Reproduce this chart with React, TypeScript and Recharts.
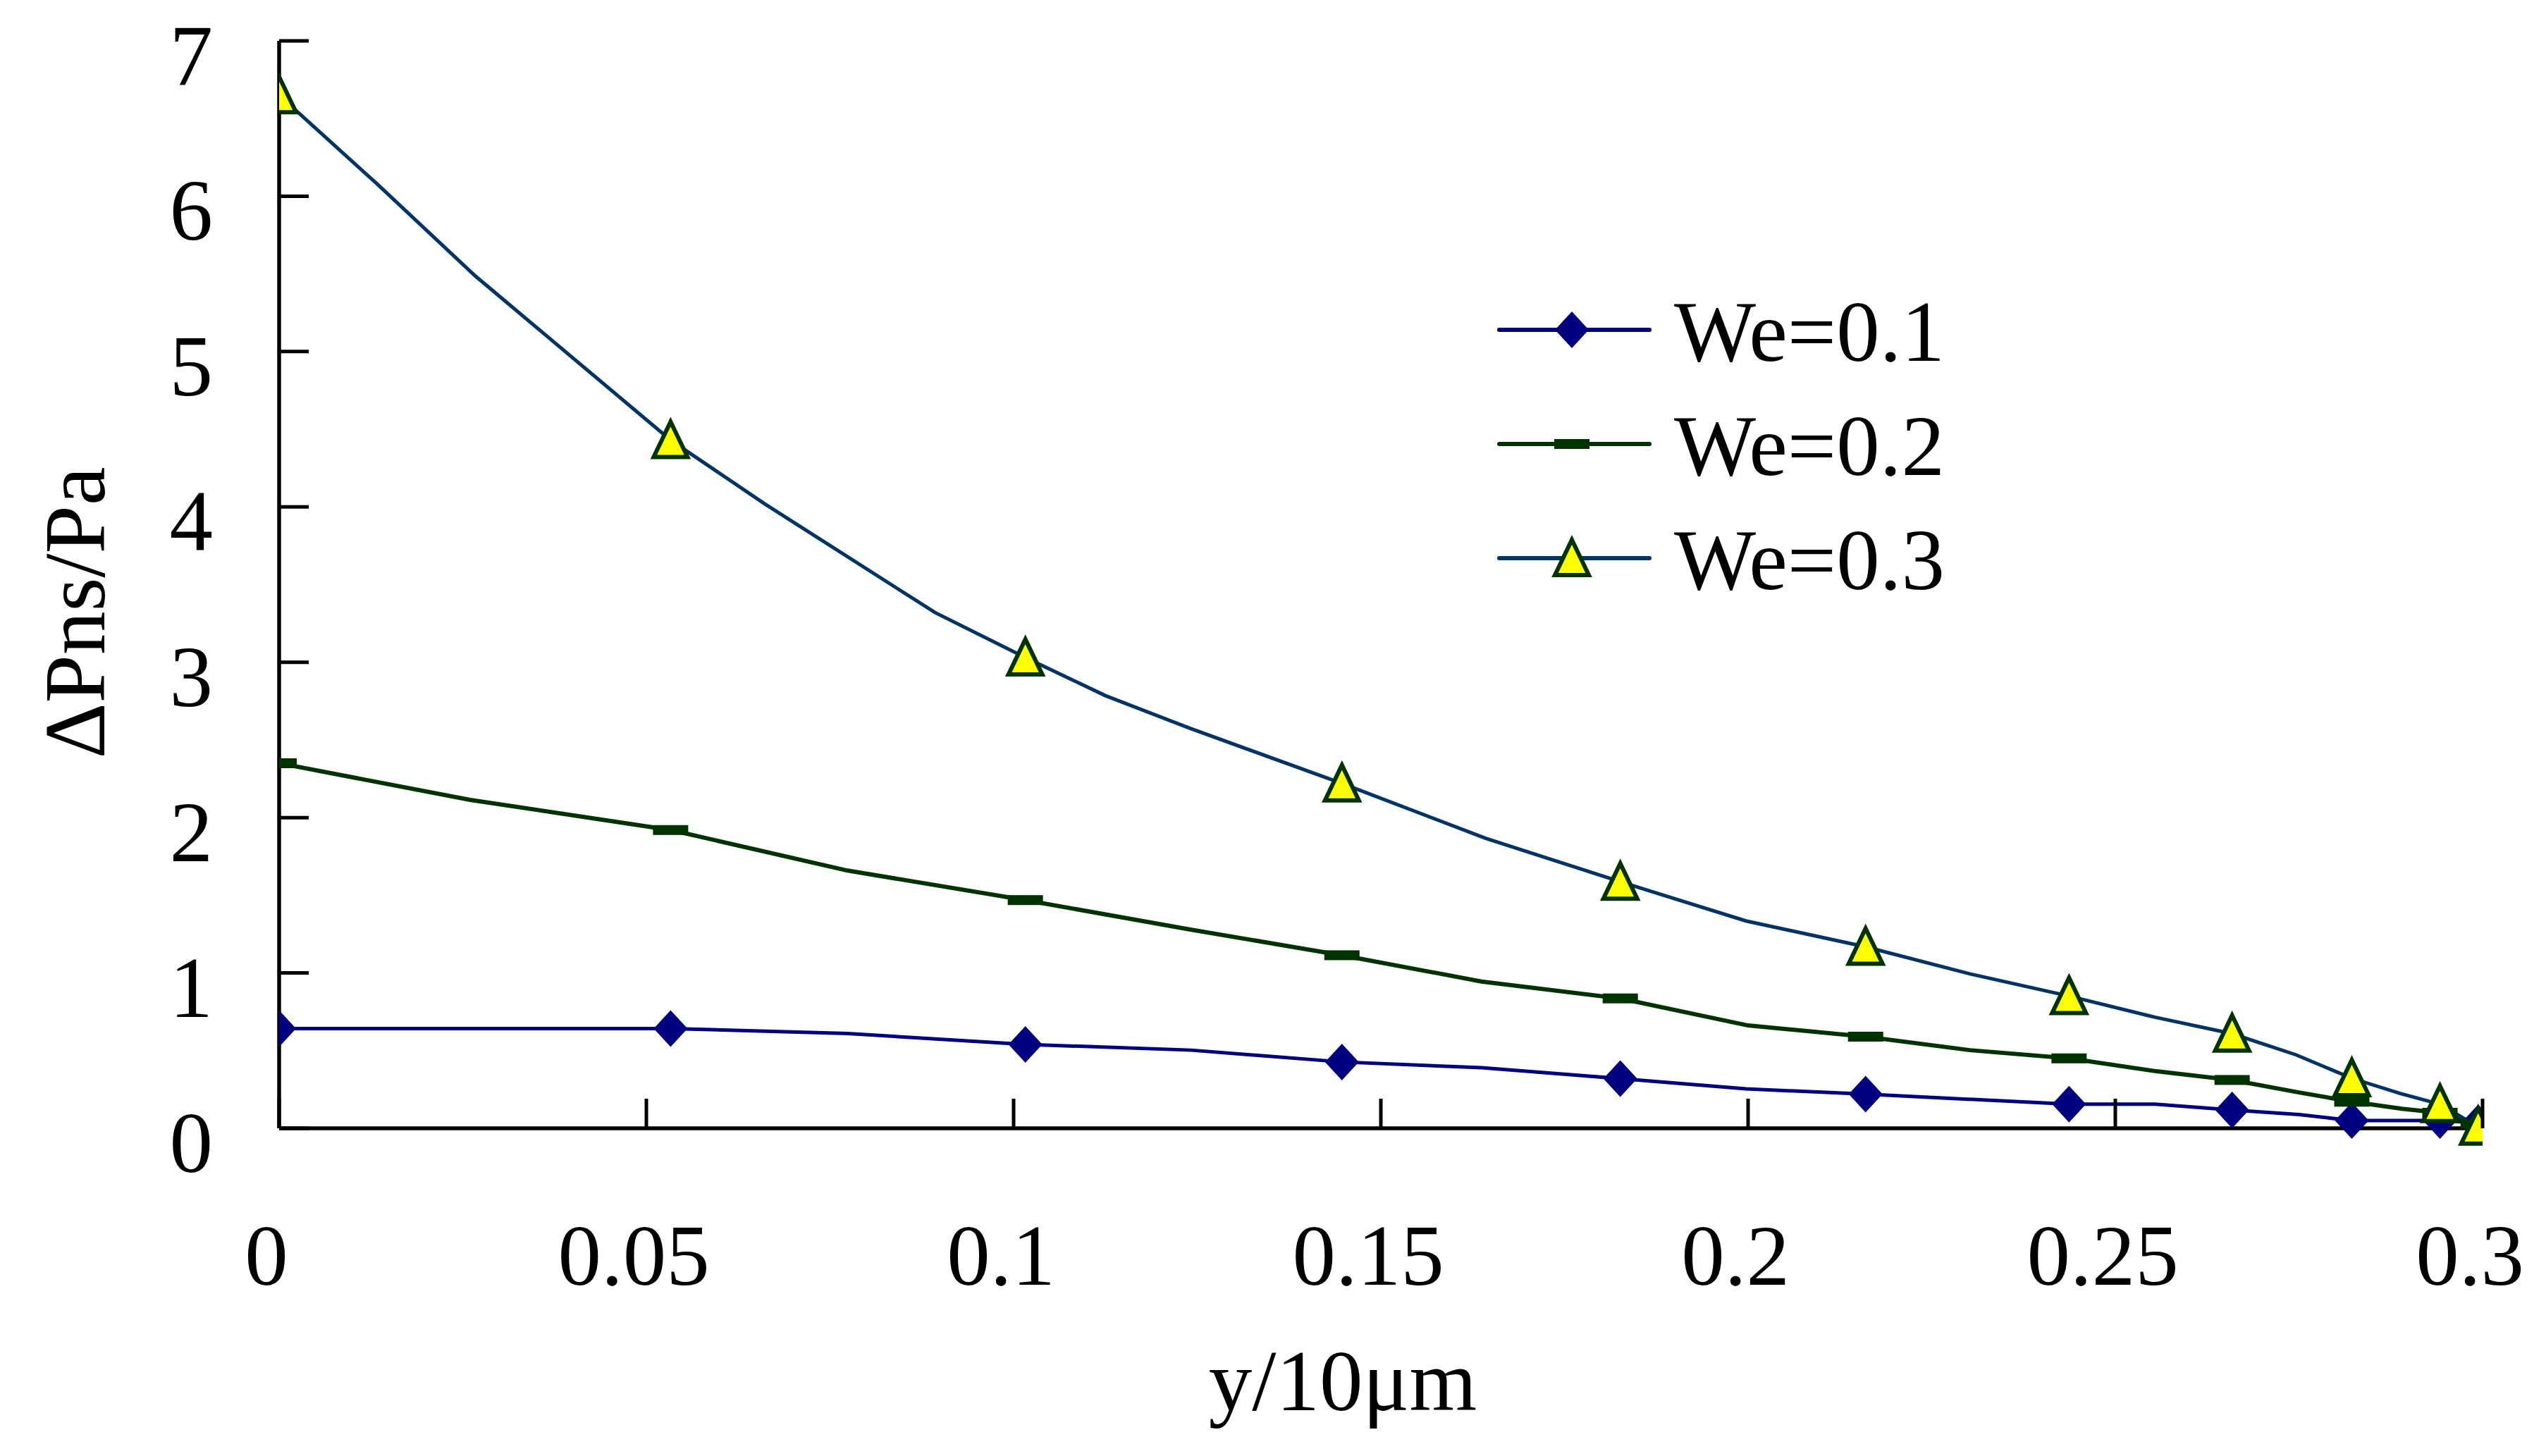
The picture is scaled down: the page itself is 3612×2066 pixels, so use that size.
import React from 'react';
import { LineChart, Line, XAxis, YAxis, Legend } from 'recharts';

/* ─── Data ────────────────────────────────────────────── */

const xTicks = [0, 0.05, 0.1, 0.15, 0.2, 0.25, 0.3];
const yTicks = [0, 1, 2, 3, 4, 5, 6, 7];

// marker positions (shared by all three series)
const markX = [0, 0.0533, 0.1016, 0.1447, 0.1826, 0.216, 0.2437, 0.2659, 0.2822, 0.2942, 0.2994];
const we1Mark = [0.642, 0.642, 0.54, 0.427, 0.32, 0.22, 0.155, 0.118, 0.05, 0.05, 0.035];
const we2Mark = [2.35, 1.92, 1.469, 1.114, 0.836, 0.59, 0.45, 0.311, 0.171, 0.1, 0.03];
const we3Mark = [6.65, 4.43, 3.03, 2.22, 1.587, 1.168, 0.851, 0.609, 0.322, 0.155, 0.01];

// curve vertices
const we1LineX = [0, 0.0533, 0.0774, 0.1016, 0.1242, 0.1447, 0.1637, 0.1826, 0.1997, 0.216, 0.2437, 0.2554, 0.2659, 0.275, 0.2822, 0.2942, 0.2994];
const we1LineY = [0.642, 0.642, 0.61, 0.54, 0.503, 0.427, 0.39, 0.32, 0.254, 0.22, 0.155, 0.155, 0.118, 0.088, 0.05, 0.05, 0.035];

const we2LineX = [0, 0.026, 0.0407, 0.0533, 0.0774, 0.1016, 0.1242, 0.1447, 0.1637, 0.1826, 0.2, 0.216, 0.2302, 0.2437, 0.2556, 0.2659, 0.275, 0.2822, 0.289, 0.2942, 0.2994];
const we2LineY = [2.35, 2.114, 2.01, 1.92, 1.659, 1.469, 1.278, 1.114, 0.945, 0.836, 0.662, 0.59, 0.503, 0.45, 0.367, 0.311, 0.231, 0.171, 0.126, 0.1, 0.03];

const we3LineX = [0, 0.0132, 0.0267, 0.0533, 0.0661, 0.0893, 0.1016, 0.1125, 0.124, 0.1447, 0.1643, 0.1826, 0.1997, 0.216, 0.2302, 0.2437, 0.2554, 0.2659, 0.2746, 0.2822, 0.2888, 0.2942, 0.2994];
const we3LineY = [6.65, 6.085, 5.487, 4.43, 4.02, 3.32, 3.03, 2.785, 2.575, 2.22, 1.866, 1.587, 1.335, 1.168, 0.994, 0.851, 0.715, 0.609, 0.473, 0.322, 0.224, 0.155, 0.01];

const seriesNames = ['We=0.1', 'We=0.2', 'We=0.3'];

/* ─── Styles ──────────────────────────────────────────── */

const FONT = "'Liberation Serif', 'Times New Roman', serif";
const FONT_SIZE = 123;
const C1 = '#000080';
const C2 = '#003300';
const C3 = '#003366';
const YELLOW = '#FFFF00';

const zip = (xs: number[], ys: number[]) => xs.map((x, i) => ({ x, y: ys[i] }));

/* ─── Marker shapes ───────────────────────────────────── */

function Diamond({ cx, cy }: { cx: number; cy: number }) {
	return <path d={`M${cx},${cy - 26} L${cx + 24},${cy} L${cx},${cy + 26} L${cx - 24},${cy} Z`} fill={C1} />;
}

function Dash({ cx, cy }: { cx: number; cy: number }) {
	return <rect x={cx - 25} y={cy - 7} width={50} height={14} fill={C2} />;
}

function Triangle({ cx, cy }: { cx: number; cy: number }) {
	return (
		<path
			d={`M${cx},${cy - 26} L${cx + 24},${cy + 24} L${cx - 24},${cy + 24} Z`}
			fill={YELLOW}
			stroke={C2}
			strokeWidth={6}
			strokeLinejoin="miter"
		/>
	);
}

const dotOf = (Shape: React.FC<{ cx: number; cy: number }>, tag: string) => (p: any) => {
	if (p.cx == null || p.cy == null) return <g key={`${tag}-${p.index}`} />;
	return (
		<g key={`${tag}-${p.index}`}>
			<Shape cx={p.cx} cy={p.cy} />
		</g>
	);
};

/* ─── Axis ticks ──────────────────────────────────────── */

function YTick(props: any) {
	const { x, y, payload } = props;
	return (
		<g>
			<line x1={x} y1={y} x2={x + 42} y2={y} stroke="#000" strokeWidth={5} />
			<text x={x - 94} y={y + 62} textAnchor="end" fontFamily={FONT} fontSize={FONT_SIZE} fill="#000">
				{payload.value}
			</text>
		</g>
	);
}

function XTick(props: any) {
	const { x, y, payload } = props;
	return (
		<g>
			<line x1={x} y1={y} x2={x} y2={y - 42} stroke="#000" strokeWidth={5} />
			<text x={x - 18} y={y + 222} textAnchor="middle" fontFamily={FONT} fontSize={FONT_SIZE} fill="#000">
				{payload.value}
			</text>
		</g>
	);
}

function XTitle(props: any) {
	const vb = props.viewBox;
	return (
		<text
			x={vb.x + vb.width / 2 - 54}
			y={vb.y + 400}
			textAnchor="middle"
			fontFamily={FONT}
			fontSize={FONT_SIZE}
			fill="#000"
		>
			y/10μm
		</text>
	);
}

function YTitle(props: any) {
	const vb = props.viewBox;
	const cx = vb.x + 52;
	const cy = vb.y + vb.height / 2 + 40;
	return (
		<text
			x={cx}
			y={cy}
			transform={`rotate(-90, ${cx}, ${cy})`}
			textAnchor="middle"
			fontFamily={FONT}
			fontSize={FONT_SIZE}
			fill="#000"
		>
			ΔPns/Pa
		</text>
	);
}

/* ─── Legend ──────────────────────────────────────────── */

function LegendBox() {
	const colors = [C1, C2, C3];
	const shapes = [Diamond, Dash, Triangle];
	return (
		<svg width={800} height={520} style={{ display: 'block' }}>
			{seriesNames.map((name, i) => {
				const ly = 88 + i * 162;
				const Shape = shapes[i];
				return (
					<g key={name}>
						<line x1={27} y1={ly} x2={240} y2={ly} stroke={colors[i]} strokeWidth={6} strokeLinecap="round" />
						<Shape cx={130} cy={ly} />
						<text x={275} y={ly + 44} fontFamily={FONT} fontSize={FONT_SIZE} fill="#000">
							{name}
						</text>
					</g>
				);
			})}
		</svg>
	);
}

/* ─── Main export ─────────────────────────────────────── */

export default function App() {
	const w1 = zip(we1LineX, we1LineY);
	const w2 = zip(we2LineX, we2LineY);
	const w3 = zip(we3LineX, we3LineY);
	const m1 = zip(markX, we1Mark);
	const m2 = zip(markX, we2Mark);
	const m3 = zip(markX, we3Mark);

	return (
		<div style={{ width: 3612, height: 2066, background: '#fff' }}>
			<style>{'body{margin:0;background:#fff}'}</style>
			<LineChart width={3612} height={2066} margin={{ top: 58, right: 90, left: 96, bottom: 165 }}>
				<XAxis
					type="number"
					dataKey="x"
					domain={[0, 0.3]}
					ticks={xTicks}
					allowDataOverflow
					height={300}
					tickSize={0}
					tickMargin={0}
					tickLine={false}
					axisLine={{ stroke: '#000', strokeWidth: 5.5 }}
					tick={<XTick />}
					interval={0}
					label={<XTitle />}
				/>
				<YAxis
					type="number"
					domain={[0, 7]}
					ticks={yTicks}
					width={300}
					tickSize={0}
					tickMargin={0}
					tickLine={false}
					axisLine={{ stroke: '#000', strokeWidth: 5.5 }}
					tick={<YTick />}
					interval={0}
					label={<YTitle />}
				/>
				<Legend
					layout="vertical"
					align="center"
					verticalAlign="middle"
					wrapperStyle={{ left: 2100, top: 380, width: 800, height: 520 }}
					content={() => <LegendBox />}
				/>

				<Line data={w1} dataKey="y" name={seriesNames[0]} type="linear" stroke={C1} strokeWidth={5} dot={false} activeDot={false} isAnimationActive={false} />
				<Line data={m1} dataKey="y" name="m1" legendType="none" stroke="none" dot={dotOf(Diamond, 'd')} activeDot={false} isAnimationActive={false} />

				<Line data={w2} dataKey="y" name={seriesNames[1]} type="linear" stroke={C2} strokeWidth={6} dot={false} activeDot={false} isAnimationActive={false} />
				<Line data={m2} dataKey="y" name="m2" legendType="none" stroke="none" dot={dotOf(Dash, 's')} activeDot={false} isAnimationActive={false} />

				<Line data={w3} dataKey="y" name={seriesNames[2]} type="linear" stroke={C3} strokeWidth={5} dot={false} activeDot={false} isAnimationActive={false} />
				<Line data={m3} dataKey="y" name="m3" legendType="none" stroke="none" dot={dotOf(Triangle, 't')} activeDot={false} isAnimationActive={false} />
			</LineChart>
		</div>
	);
}
